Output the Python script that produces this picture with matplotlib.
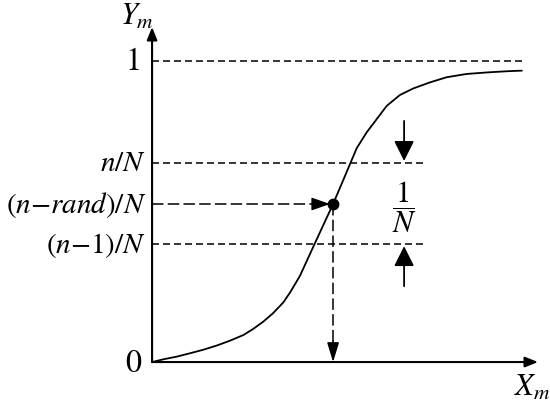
import matplotlib

matplotlib.use('Agg')

import numpy as np
import matplotlib.pyplot as plt

plt.rcParams['mathtext.fontset'] = 'stix'
plt.rcParams['font.family'] = ['STIXGeneral', 'DejaVu Serif']

# CDF curve (x: 0..1 along X_m, y: 0..1 along Y_m)
curve_x = [0.0, 0.029, 0.064, 0.098, 0.133, 0.168, 0.202, 0.237, 0.262, 0.288, 0.314,
           0.340, 0.358, 0.383, 0.422, 0.469, 0.513, 0.530, 0.556, 0.582, 0.608, 0.642,
           0.677, 0.720, 0.763, 0.815, 0.867, 0.919, 0.958]
curve_y = [0.0, 0.009, 0.018, 0.029, 0.041, 0.055, 0.071, 0.090, 0.110, 0.134, 0.163,
           0.198, 0.232, 0.286, 0.395, 0.525, 0.658, 0.710, 0.763, 0.807, 0.851, 0.887,
           0.909, 0.929, 0.946, 0.957, 0.962, 0.966, 0.968]

# horizontal reference levels
level_one = 1.0
level_n = 0.661
level_nm1 = 0.392
level_rand = 0.525
x_rand = 0.469

tick_labels = ['$n/N$', '$(n{-}rand)/N$', '$(n{-}1)/N$']
tick_values = [level_n, level_rand, level_nm1]

one_end = 0.966
short_end = 0.712
arrow_x = 0.653

fig = plt.figure(figsize=(5.5, 4.1), dpi=100)
ax = fig.add_axes([0, 0, 1, 1])
ax.set_xlim(-0.394, 1.031)
ax.set_ylim(-0.156, 1.206)
ax.axis('off')

short_dash = (4.6, 2.6)
long_dash = (7.5, 2.8)

# axes with arrows
ax_arrow = dict(arrowstyle='-|>,head_length=0.55,head_width=0.22', lw=1.5, color='k',
                mutation_scale=14, shrinkA=0, shrinkB=0)
ax.annotate('', xy=(1.0, 0), xytext=(0, 0), arrowprops=ax_arrow)
ax.annotate('', xy=(0, 1.113), xytext=(0, 0), arrowprops=ax_arrow)

# dashed level lines
ax.plot([0, one_end], [level_one, level_one], color='k', lw=1.1, dashes=short_dash)
ax.plot([0, short_end], [level_n, level_n], color='k', lw=1.1, dashes=short_dash)
ax.plot([0, short_end], [level_nm1, level_nm1], color='k', lw=1.1, dashes=short_dash)

# curve
ax.plot(curve_x, curve_y, color='k', lw=1.3, solid_capstyle='round',
        solid_joinstyle='round')

# dashed arrow to the point
ax.plot([0, x_rand - 0.045], [level_rand, level_rand], color='k', lw=1.1, dashes=long_dash)
ax.annotate('', xy=(x_rand - 0.008, level_rand), xytext=(x_rand - 0.05, level_rand),
            arrowprops=dict(arrowstyle='-|>,head_length=0.8,head_width=0.28', lw=1.1,
                            color='k', mutation_scale=14, shrinkA=0, shrinkB=0))
ax.plot(x_rand, level_rand, 'o', color='k', ms=7.5)

# dashed arrow down to the x axis
ax.plot([x_rand, x_rand], [level_rand, 0.06], color='k', lw=1.1, dashes=long_dash)
ax.annotate('', xy=(x_rand, 0.0), xytext=(x_rand, 0.07),
            arrowprops=dict(arrowstyle='-|>,head_length=0.85,head_width=0.26', lw=1.1,
                            color='k', mutation_scale=14, shrinkA=0, shrinkB=0))

# 1/N arrows
big_arrow = dict(arrowstyle='-|>,head_length=0.7,head_width=0.35', lw=1.3, color='k',
                 mutation_scale=17.5, shrinkA=0, shrinkB=0)
ax.annotate('', xy=(arrow_x, 0.668), xytext=(arrow_x, 0.801), arrowprops=big_arrow)
ax.annotate('', xy=(arrow_x, 0.385), xytext=(arrow_x, 0.252), arrowprops=big_arrow)
ax.text(arrow_x, 0.518, r'$\dfrac{1}{N}$', ha='center', va='center', fontsize=22)

# labels
for lab, val in zip(tick_labels, tick_values):
    ax.text(-0.016, val, lab, ha='right', va='center', fontsize=21)
ax.text(-0.049, level_one, '1', ha='center', va='center', fontsize=23)
ax.text(-0.049, -0.003, '0', ha='center', va='center', fontsize=23)
ax.text(-0.082, 1.15, '$Y_m$', ha='left', va='center', fontsize=22)
ax.text(0.938, -0.083, '$X_m$', ha='left', va='center', fontsize=22)

fig.savefig('out.png', dpi=100)
